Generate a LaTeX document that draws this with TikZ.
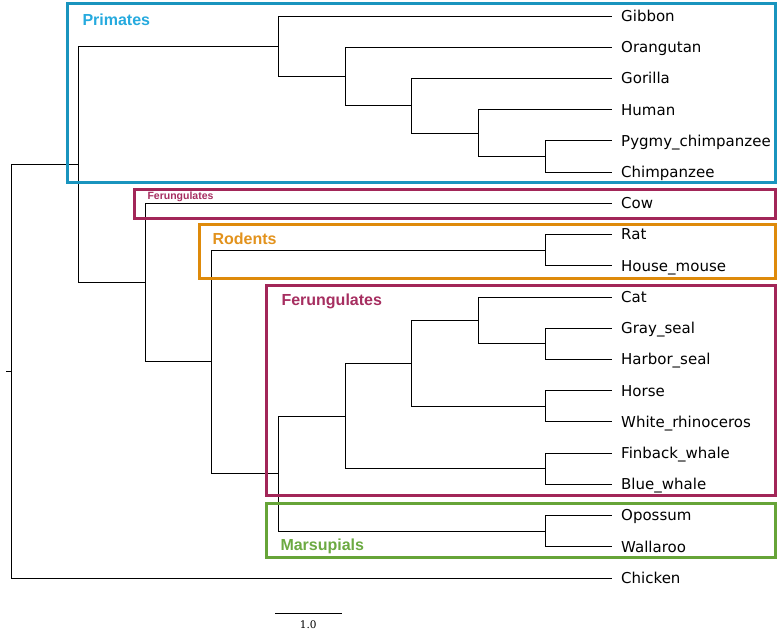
\documentclass[tikz,border=0pt]{standalone}
\usepackage{fontspec}
\newfontfamily\leaffont{DejaVu Sans}
\newfontfamily\grpfont{Liberation Sans}
\newfontfamily\barfont{DejaVu Serif}
\definecolor{primbox}{RGB}{25,148,190}
\definecolor{primtxt}{RGB}{38,170,222}
\definecolor{ferbox}{RGB}{162,38,88}
\definecolor{fertxt}{RGB}{166,46,96}
\definecolor{rodbox}{RGB}{222,138,10}
\definecolor{rodtxt}{RGB}{226,146,28}
\definecolor{marbox}{RGB}{102,164,56}
\definecolor{martxt}{RGB}{108,170,66}
\tikzset{
  branch/.style={line width=1pt, black},
  leaf/.style={anchor=base west, inner sep=0pt, xshift=9.3pt, yshift=-5.4pt,
    font=\leaffont\fontsize{15}{18}\selectfont},
  clade/.style={line width=3pt},
  cladetext/.style={anchor=base west, inner sep=0pt,
    font=\grpfont\bfseries\fontsize{16}{19}\selectfont},
  smalltext/.style={anchor=base west, inner sep=0pt,
    font=\grpfont\bfseries\fontsize{10.5}{12}\selectfont},
  barlabel/.style={inner sep=0pt, font=\barfont\fontsize{10.5}{12}\selectfont},
}
\begin{document}
\begin{tikzpicture}[x=1pt,y=-1pt]
\useasboundingbox (0,0) rectangle (779,637);

% leaf tips
\coordinate (l0) at (611.7,16.0);
\coordinate (l1) at (611.7,47.2);
\coordinate (l2) at (611.7,78.4);
\coordinate (l3) at (611.7,109.7);
\coordinate (l4) at (611.7,140.9);
\coordinate (l5) at (611.7,172.1);
\coordinate (l6) at (611.7,203.3);
\coordinate (l7) at (611.7,234.5);
\coordinate (l8) at (611.7,265.8);
\coordinate (l9) at (611.7,297.0);
\coordinate (l10) at (611.7,328.2);
\coordinate (l11) at (611.7,359.4);
\coordinate (l12) at (611.7,390.6);
\coordinate (l13) at (611.7,421.9);
\coordinate (l14) at (611.7,453.1);
\coordinate (l15) at (611.7,484.3);
\coordinate (l16) at (611.7,515.5);
\coordinate (l17) at (611.7,546.7);
\coordinate (l18) at (611.7,578.0);

% internal nodes
\coordinate (stub) at (6,371.2);
\coordinate (root) at (11.7,371.2);
\coordinate (A) at (78.4,164.4);
\coordinate (P1) at (278.4,46.25);
\coordinate (P2) at (345.0,76.5);
\coordinate (P3) at (411.7,105.75);
\coordinate (P4) at (478.4,133.1);
\coordinate (P5) at (545.0,156.5);
\coordinate (B) at (145.0,282.6);
\coordinate (C) at (211.7,361.8);
\coordinate (R) at (545.0,250.1);
\coordinate (D) at (278.4,473.6);
\coordinate (F) at (345.0,416.0);
\coordinate (CH) at (411.7,363.3);
\coordinate (CS) at (478.4,320.4);
\coordinate (S) at (545.0,343.8);
\coordinate (HR) at (545.0,406.2);
\coordinate (W) at (545.0,468.7);
\coordinate (M) at (545.0,531.1);

% branches
\draw[branch] (stub) -- (root);
\draw[branch] (root) |- (A);
\draw[branch] (root) |- (l18);
\draw[branch] (A) |- (P1);
\draw[branch] (A) |- (B);
\draw[branch] (P1) |- (l0);
\draw[branch] (P1) |- (P2);
\draw[branch] (P2) |- (l1);
\draw[branch] (P2) |- (P3);
\draw[branch] (P3) |- (l2);
\draw[branch] (P3) |- (P4);
\draw[branch] (P4) |- (l3);
\draw[branch] (P4) |- (P5);
\draw[branch] (P5) |- (l4);
\draw[branch] (P5) |- (l5);
\draw[branch] (B) |- (l6);
\draw[branch] (B) |- (C);
\draw[branch] (C) |- (R);
\draw[branch] (C) |- (D);
\draw[branch] (R) |- (l7);
\draw[branch] (R) |- (l8);
\draw[branch] (D) |- (F);
\draw[branch] (D) |- (M);
\draw[branch] (F) |- (CH);
\draw[branch] (F) |- (W);
\draw[branch] (CH) |- (CS);
\draw[branch] (CH) |- (HR);
\draw[branch] (CS) |- (l9);
\draw[branch] (CS) |- (S);
\draw[branch] (S) |- (l10);
\draw[branch] (S) |- (l11);
\draw[branch] (HR) |- (l12);
\draw[branch] (HR) |- (l13);
\draw[branch] (W) |- (l14);
\draw[branch] (W) |- (l15);
\draw[branch] (M) |- (l16);
\draw[branch] (M) |- (l17);

% taxon names
\node[leaf] (t0) at (l0) {Gibbon};
\node[leaf] (t1) at (l1) {Orangutan};
\node[leaf] (t2) at (l2) {Gorilla};
\node[leaf] (t3) at (l3) {Human};
\node[leaf] (t4) at (l4) {Pygmy\_chimpanzee};
\node[leaf] (t5) at (l5) {Chimpanzee};
\node[leaf] (t6) at (l6) {Cow};
\node[leaf] (t7) at (l7) {Rat};
\node[leaf] (t8) at (l8) {House\_mouse};
\node[leaf] (t9) at (l9) {Cat};
\node[leaf] (t10) at (l10) {Gray\_seal};
\node[leaf] (t11) at (l11) {Harbor\_seal};
\node[leaf] (t12) at (l12) {Horse};
\node[leaf] (t13) at (l13) {White\_rhinoceros};
\node[leaf] (t14) at (l14) {Finback\_whale};
\node[leaf] (t15) at (l15) {Blue\_whale};
\node[leaf] (t16) at (l16) {Opossum};
\node[leaf] (t17) at (l17) {Wallaroo};
\node[leaf] (t18) at (l18) {Chicken};

% clade frames
\draw[clade, primbox] (67.2,3.2) rectangle (775.5,182.3);
\draw[clade, ferbox] (134.8,189.2) rectangle (775.5,218.0);
\draw[clade, rodbox] (199.2,224.2) rectangle (775.5,278.7);
\draw[clade, ferbox] (266.5,285.2) rectangle (775.5,495.8);
\draw[clade, marbox] (266.5,503.7) rectangle (775.5,557.7);

% clade names
\node[cladetext, primtxt] (gprim) at (82.3,25.4) {Primates};
\node[smalltext, fertxt] (gcow) at (147.3,199.8) {Ferungulates};
\node[cladetext, rodtxt] (grod) at (212.3,244.7) {Rodents};
\node[cladetext, fertxt] (gfer) at (281.3,305.7) {Ferungulates};
\node[cladetext, martxt] (gmar) at (280.3,550.2) {Marsupials};

% scale bar
\coordinate (s0) at (275,613.3);
\coordinate (s1) at (341.7,613.3);
\draw[branch] (s0) -- (s1);
\node[barlabel] (slab) at (308.3,624.3) {1.0};
\end{tikzpicture}
\end{document}
